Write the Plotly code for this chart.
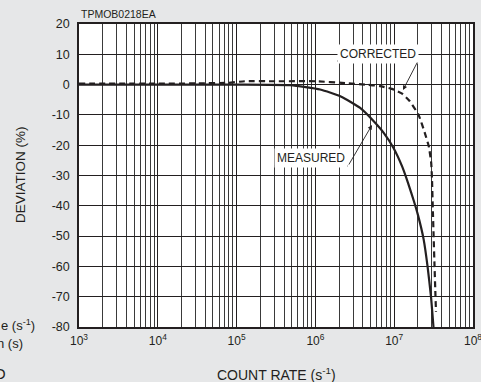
import plotly.graph_objects as go

# ---------------- data ----------------
measured_rate = [1e3, 1e4, 1e5, 4.8e5, 1.15e6, 2.1e6, 3.7e6, 5.5e6, 7.4e6, 9.8e6,
                 1.26e7, 1.5e7, 1.78e7, 2.0e7, 2.36e7, 2.65e7, 2.93e7, 3.15e7]
measured_dev = [0, 0, 0, -0.2, -1.6, -3.9, -7.7, -12.1, -16, -20.9,
                -27, -32.5, -38.5, -43, -51, -60, -70, -80]

corrected_rate = [1e3, 1e4, 3.2e4, 8e4, 1.26e5, 3.2e5, 1e6, 2.4e6, 4.3e6, 6.6e6,
                  9.3e6, 1.26e7, 1.58e7, 2.04e7, 2.45e7, 2.75e7, 2.95e7, 3.02e7,
                  3.09e7, 3.25e7, 3.39e7]
corrected_dev = [0.3, 0.3, 0.4, 0.6, 1.1, 1.1, 1.1, 0.5, 0, -0.5,
                 -1.4, -3, -5.5, -10, -16, -20.4, -25.9, -31.4,
                 -41, -60, -75]

x_tickvals = [1e3, 1e4, 1e5, 1e6, 1e7, 1e8]
x_ticktext = ["10<sup>3</sup>", "10<sup>4</sup>", "10<sup>5</sup>",
              "10<sup>6</sup>", "10<sup>7</sup>", "10<sup>8</sup>"]
y_tickvals = [20, 10, 0, -10, -20, -30, -40, -50, -60, -70, -80]
y_ticktext = ["20", "10", "0", "-10", "-20", "-30", "-40", "-50", "-60", "-70", "-80"]

# minor grid positions (2..9 x each decade)
minor_vals = [k * 10 ** e for e in range(3, 8) for k in range(2, 10)]

INK = "#231f20"
BG = "#e6e7e8"
FONT = "Liberation Sans, Arial, Helvetica, sans-serif"

W, H = 481, 382
L, R, T, B = 79, 8, 24, 55
PW, PH = W - L - R, H - T - B


def px(x):
    return (x - L) / PW


def py(y):
    return (H - B - y) / PH


fig = go.Figure()
fig.add_trace(go.Scatter(x=measured_rate, y=measured_dev, mode="lines",
                         line=dict(color=INK, width=2.2, shape="spline", smoothing=0.5),
                         showlegend=False, hoverinfo="skip"))
fig.add_trace(go.Scatter(x=corrected_rate, y=corrected_dev, mode="lines",
                         line=dict(color=INK, width=2.2, dash="6px,4px", shape="spline", smoothing=0.4),
                         showlegend=False, hoverinfo="skip"))

fig.update_layout(
    width=W, height=H,
    margin=dict(l=L, r=R, t=T, b=B, pad=0),
    paper_bgcolor=BG, plot_bgcolor="white",
    font=dict(family=FONT, color=INK, size=12),
    xaxis=dict(type="log", range=[3, 8], tickvals=x_tickvals, ticktext=x_ticktext,
               showgrid=True, gridcolor=INK, gridwidth=1,
               minor=dict(tickvals=minor_vals, showgrid=True, gridcolor="#3a3a3a", gridwidth=1, ticks=""),
               showline=True, linecolor=INK, linewidth=1.5, mirror=True,
               ticks="", ticklabelstandoff=2, zeroline=False, automargin=False,
               ticklabeloverflow="allow",
               tickfont=dict(size=12, color=INK, family=FONT)),
    yaxis=dict(range=[-80, 20], tickvals=y_tickvals, ticktext=y_ticktext,
               showgrid=True, gridcolor=INK, gridwidth=1,
               showline=True, linecolor=INK, linewidth=1.5, mirror=True,
               ticks="", ticklabelstandoff=5, zeroline=False, automargin=False,
               tickfont=dict(size=12.5, color=INK, family=FONT)),
)

annotations = [
    dict(text="TPMOB0218EA", x=px(79), y=py(14), xanchor="left", yanchor="middle",
         font=dict(size=10.5)),
    dict(text="COUNT RATE (s<sup>-1</sup>)", x=px(276), y=py(374), xanchor="center", yanchor="middle",
         font=dict(size=14)),
    dict(text="DEVIATION (%)", x=px(20), y=py(175), xanchor="center", yanchor="middle",
         textangle=-90, font=dict(size=13.5)),
    dict(text="e (s<sup>-1</sup>)", x=px(37), y=py(325), xanchor="right", yanchor="middle",
         font=dict(size=13)),
    dict(text="n (s)", x=px(25), y=py(343), xanchor="right", yanchor="middle",
         font=dict(size=13)),
    dict(text="O", x=px(8), y=py(373), xanchor="right", yanchor="middle",
         font=dict(size=15)),
    # labels
    dict(text="CORRECTED", x=px(378), y=py(54), xanchor="center", yanchor="middle",
         bgcolor="white", borderpad=2, font=dict(size=12)),
    dict(text="MEASURED", x=px(311), y=py(158), xanchor="center", yanchor="middle",
         bgcolor="white", borderpad=2, font=dict(size=12)),
    # leaders
    dict(text="", x=px(403), y=py(90), ax=15, ay=-29, showarrow=True,
         arrowhead=2, arrowsize=1, arrowwidth=0.9, arrowcolor=INK),
    dict(text="", x=px(372), y=py(125), ax=-24, ay=41, showarrow=True,
         arrowhead=2, arrowsize=1, arrowwidth=0.9, arrowcolor=INK),
]
for a in annotations:
    a.setdefault("xref", "paper")
    a.setdefault("yref", "paper")
    a.setdefault("showarrow", False)
fig.update_layout(annotations=annotations)

# underlines of the labels
fig.add_shape(type="line", xref="paper", yref="paper",
              x0=px(337), x1=px(418), y0=py(61), y1=py(61), line=dict(color=INK, width=1))
fig.add_shape(type="line", xref="paper", yref="paper",
              x0=px(274), x1=px(348), y0=py(166), y1=py(166), line=dict(color=INK, width=1))

fig.write_html("out.html", config={"displayModeBar": False},
               post_script="document.body.style.margin='0px';")
